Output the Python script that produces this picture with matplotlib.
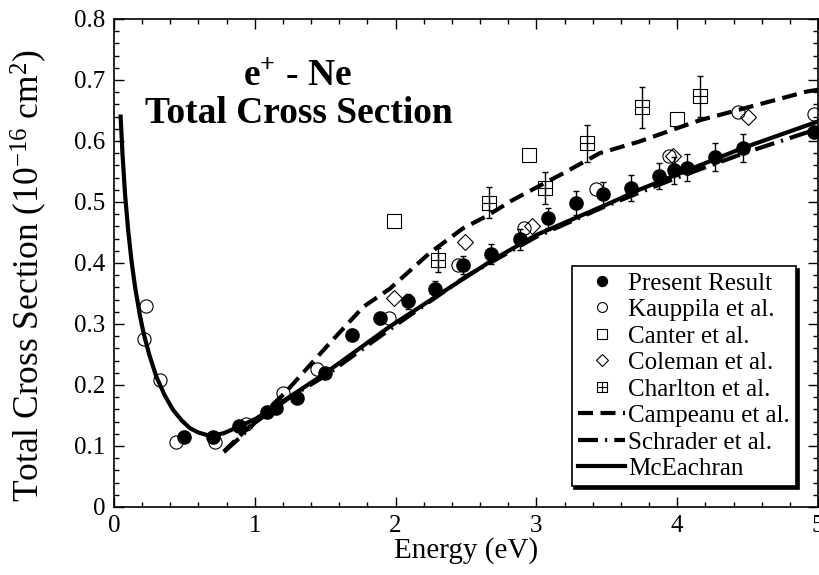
import numpy as np
import matplotlib
matplotlib.use('Agg')
import matplotlib.pyplot as plt
from matplotlib.path import Path

plt.rcParams['font.family'] = ['Liberation Serif', 'DejaVu Serif']
plt.rcParams['mathtext.fontset'] = 'custom'
plt.rcParams['mathtext.rm'] = 'Liberation Serif'
plt.rcParams['mathtext.it'] = 'Liberation Serif:italic'
plt.rcParams['mathtext.bf'] = 'Liberation Serif:bold'

# present result (with error bars)
pres_E = [0.50, 0.70, 0.89, 1.09, 1.15, 1.30, 1.50, 1.69, 1.89, 2.09, 2.28, 2.48,
          2.68, 2.88, 3.08, 3.28, 3.47, 3.67, 3.87, 3.98, 4.07, 4.27, 4.47, 4.97]
pres_s = [0.114, 0.114, 0.132, 0.155, 0.163, 0.178, 0.220, 0.282, 0.310, 0.337, 0.357, 0.397,
          0.415, 0.439, 0.474, 0.498, 0.513, 0.523, 0.543, 0.552, 0.556, 0.573, 0.588, 0.615]
pres_err = [0.003, 0.003, 0.004, 0.005, 0.005, 0.006, 0.007, 0.009, 0.010, 0.012, 0.013, 0.015,
            0.016, 0.017, 0.016, 0.020, 0.019, 0.021, 0.021, 0.022, 0.022, 0.023, 0.023, 0.0]

# Kauppila et al.
kau_E = [0.21, 0.23, 0.33, 0.44, 0.72, 0.94, 1.20, 1.44, 1.95, 2.44, 2.91, 3.42, 3.94, 4.43, 4.97]
kau_s = [0.276, 0.330, 0.208, 0.107, 0.107, 0.136, 0.187, 0.227, 0.309, 0.396, 0.457, 0.521,
         0.575, 0.647, 0.644]

# Canter et al.
can_E = [1.99, 2.95, 4.00]
can_s = [0.469, 0.577, 0.636]

# Coleman et al.
col_E = [1.99, 2.49, 2.97, 3.97, 4.50]
col_s = [0.342, 0.435, 0.460, 0.575, 0.640]

# Charlton et al.
cha_E = [2.30, 2.66, 3.06, 3.36, 3.75, 4.16]
cha_s = [0.405, 0.499, 0.523, 0.596, 0.655, 0.673]
cha_err = [0.019, 0.025, 0.026, 0.030, 0.033, 0.033]

# theory curves
camp_E = [0.78, 0.90, 1.00, 1.21, 1.53, 1.77, 1.96, 2.24, 2.48, 2.64, 2.83, 3.19, 3.45,
          3.73, 4.16, 4.50, 4.92, 5.00]
camp_s = [0.091, 0.118, 0.140, 0.186, 0.268, 0.328, 0.358, 0.416, 0.457, 0.476, 0.503, 0.547,
          0.580, 0.599, 0.634, 0.655, 0.681, 0.684]

schr_E = [0.78, 0.90, 1.00, 1.25, 1.50, 2.00, 2.50, 3.00, 3.50, 4.00, 4.50, 5.00]
schr_s = [0.090, 0.115, 0.138, 0.180, 0.215, 0.298, 0.378, 0.443, 0.494, 0.540, 0.582, 0.620]

mce_E = [0.047, 0.06, 0.078, 0.10, 0.125, 0.15, 0.184, 0.21, 0.25, 0.30, 0.36, 0.42, 0.48,
         0.54, 0.60, 0.66, 0.72, 0.78, 0.89, 1.01, 1.25, 1.48, 1.96, 2.36, 2.69, 3.00,
         3.54, 3.73, 4.46, 5.00]
mce_s = [0.640, 0.580, 0.514, 0.455, 0.402, 0.360, 0.314, 0.285, 0.250, 0.214, 0.183, 0.159,
         0.142, 0.129, 0.122, 0.118, 0.118, 0.121, 0.132, 0.145, 0.181, 0.216, 0.296, 0.356,
         0.405, 0.446, 0.500, 0.520, 0.588, 0.632]

# square with a cross in it, for Charlton
sq_plus = Path([(-1, -1), (1, -1), (1, 1), (-1, 1), (-1, -1), (0, -1), (0, 1), (-1, 0), (1, 0)],
               [Path.MOVETO, Path.LINETO, Path.LINETO, Path.LINETO, Path.CLOSEPOLY,
                Path.MOVETO, Path.LINETO, Path.MOVETO, Path.LINETO])

fig = plt.figure(figsize=(8.19, 5.75), dpi=100)
ax = fig.add_axes([0.1392, 0.1183, 0.8596, 0.8487])

lw = 3.0
l_camp, = ax.plot(camp_E, camp_s, color='black', lw=lw, dashes=(3.6, 1.8), zorder=3)
l_schr, = ax.plot(schr_E, schr_s, color='black', lw=lw, dashes=(4.8, 1.7, 0.5, 1.7), zorder=3)
l_mce, = ax.plot(mce_E, mce_s, color='black', lw=lw, zorder=3)

h_pres = ax.errorbar(pres_E, pres_s, yerr=pres_err, fmt='o', color='black', ms=9.5,
                     elinewidth=1, capsize=2.5, capthick=1, zorder=5)
h_kau, = ax.plot(kau_E, kau_s, 'o', mfc='none', mec='black', mew=0.8, ms=9.5, zorder=4)
h_can, = ax.plot(can_E, can_s, 's', mfc='none', mec='black', mew=0.8, ms=10, zorder=4)
h_col, = ax.plot(col_E, col_s, 'D', mfc='none', mec='black', mew=0.8, ms=8, zorder=4)
ax.errorbar(cha_E, cha_s, yerr=cha_err, fmt='none', ecolor='black', elinewidth=1,
            capsize=2.5, capthick=1, zorder=4)
h_cha, = ax.plot(cha_E, cha_s, marker=sq_plus, ls='none', mfc='none', mec='black',
                 mew=0.8, ms=10, zorder=4)

ax.set_xlim(0, 5)
ax.set_ylim(0, 0.8)
ax.set_xticks(np.arange(0, 5.01, 1))
ax.set_xticks(np.arange(0, 5.01, 0.2), minor=True)
ax.set_yticks(np.arange(0, 0.81, 0.1))
ax.set_yticks(np.arange(0, 0.81, 0.02), minor=True)
ax.set_yticklabels(['0', '0.1', '0.2', '0.3', '0.4', '0.5', '0.6', '0.7', '0.8'])
ax.tick_params(which='both', direction='in', top=True, right=True, labelsize=18, width=1)
ax.tick_params(which='major', length=7, pad=6)
ax.tick_params(which='minor', length=3.5)
for sp in ax.spines.values():
    sp.set_linewidth(1.2)

ax.set_xlabel('Energy (eV)', fontsize=21, labelpad=0)
ax.set_ylabel(r'Total Cross Section (10$^{-16}$ cm$^{2}$)', fontsize=25.5)
ax.yaxis.set_label_coords(-0.093, 0.475)

ax.text(0.26, 0.885, r'e$^{\mathbf{+}}$ - Ne', transform=ax.transAxes, fontsize=27,
        fontweight='bold', ha='center', va='center')
ax.text(0.263, 0.807, 'Total Cross Section', transform=ax.transAxes, fontsize=27,
        fontweight='bold', ha='center', va='center')

leg = ax.legend([h_pres[0], h_kau, h_can, h_col, h_cha, l_camp, l_schr, l_mce],
                ['Present Result', 'Kauppila et al.', 'Canter et al.', 'Coleman et al.',
                 'Charlton et al.', 'Campeanu et al.', 'Schrader et al.', 'McEachran'],
                loc='upper left', bbox_to_anchor=(0.65, 0.494), fontsize=18,
                frameon=True, fancybox=False, edgecolor='black', framealpha=1,
                shadow={'color': 'black', 'alpha': 1}, handlelength=1.9,
                handletextpad=0.1, labelspacing=0.16, borderpad=0.25, borderaxespad=0,
                markerscale=0.75)
leg.get_frame().set_linewidth(1.2)

fig.savefig('out.png', dpi=100)
